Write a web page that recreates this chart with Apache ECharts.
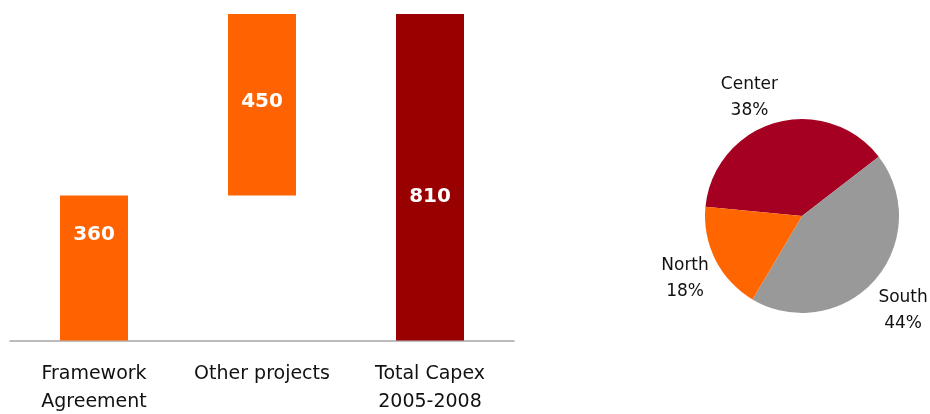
<!DOCTYPE html>
<html>
<head>
<meta charset="utf-8">
<script src="https://cdn.jsdelivr.net/npm/echarts@6/dist/echarts.min.js"></script>
<style>
  html, body { margin: 0; padding: 0; background: #fff; }
  #chart { width: 930px; height: 414px; }
</style>
</head>
<body>
<div id="chart"></div>
<script>
// Capex bridge (waterfall) data
const categories = ['Framework\nAgreement', 'Other projects', 'Total Capex\n2005-2008'];
const capexValues = [360, 450, 810];
const isTotal = [false, false, true];

// Regional split of capex
const regionNames = ['Center', 'South', 'North'];
const regionShares = [38, 44, 18];

const ORANGE = '#FF6200';
const DARK_RED = '#990000';
const REGION_COLORS = ['#A50021', '#999999', '#FF6600'];

// Invisible base that lifts each step bar onto the running total
let running = 0;
const baseValues = capexValues.map((v, i) => {
  if (isTotal[i]) return 0;
  const b = running;
  running += v;
  return b;
});

const labelOffsets = [[0, -33], [0, -3], [0, 20]];

const chart = echarts.init(document.getElementById('chart'), null, { renderer: 'canvas' });

chart.setOption({
  animation: false,
  textStyle: { fontFamily: 'DejaVu Sans' },
  grid: {
    left: 10, right: 416, top: 14, bottom: 73.5,
    outerBoundsMode: 'none',
    containLabel: false
  },
  xAxis: {
    type: 'category',
    data: categories,
    axisLine: { lineStyle: { color: '#A6A6A6', width: 1.5 } },
    axisTick: { show: false },
    axisLabel: {
      color: '#111',
      fontSize: 19,
      lineHeight: 28,
      margin: 20,
      interval: 0
    }
  },
  yAxis: {
    type: 'value',
    min: 0,
    max: 810,
    show: false,
    splitLine: { show: false }
  },
  series: [
    {
      type: 'bar',
      stack: 'capex',
      barWidth: 68,
      silent: true,
      itemStyle: { color: 'transparent' },
      data: baseValues
    },
    {
      type: 'bar',
      stack: 'capex',
      barWidth: 68,
      data: capexValues.map((v, i) => ({
        value: v,
        itemStyle: { color: isTotal[i] ? DARK_RED : ORANGE },
        label: { offset: labelOffsets[i] }
      })),
      label: {
        show: true,
        position: 'inside',
        color: '#fff',
        fontSize: 20,
        fontWeight: 'bold',
        fontFamily: 'DejaVu Sans'
      }
    },
    {
      type: 'pie',
      center: [802, 216],
      radius: [0, 97],
      startAngle: 174.5,
      clockwise: true,
      silent: true,
      label: { show: false },
      labelLine: { show: false },
      itemStyle: { borderWidth: 0 },
      data: regionNames.map((n, i) => ({
        name: n,
        value: regionShares[i],
        itemStyle: { color: REGION_COLORS[i] }
      }))
    },
    {
      // transparent ring carrying the slice labels just outside the pie
      type: 'pie',
      center: [802, 216],
      radius: [97, 175],
      startAngle: 174.5,
      clockwise: true,
      silent: true,
      itemStyle: { color: 'transparent' },
      labelLine: { show: false },
      label: {
        show: true,
        position: 'inside',
        formatter: '{b}\n{c}%',
        color: '#111',
        fontSize: 17,
        lineHeight: 26,
        fontFamily: 'DejaVu Sans'
      },
      data: regionNames.map((n, i) => ({
        name: n,
        value: regionShares[i],
        label: { offset: [[-14, 15], [-3, 2], [7, 0]][i] }
      }))
    }
  ]
});
</script>
</body>
</html>
